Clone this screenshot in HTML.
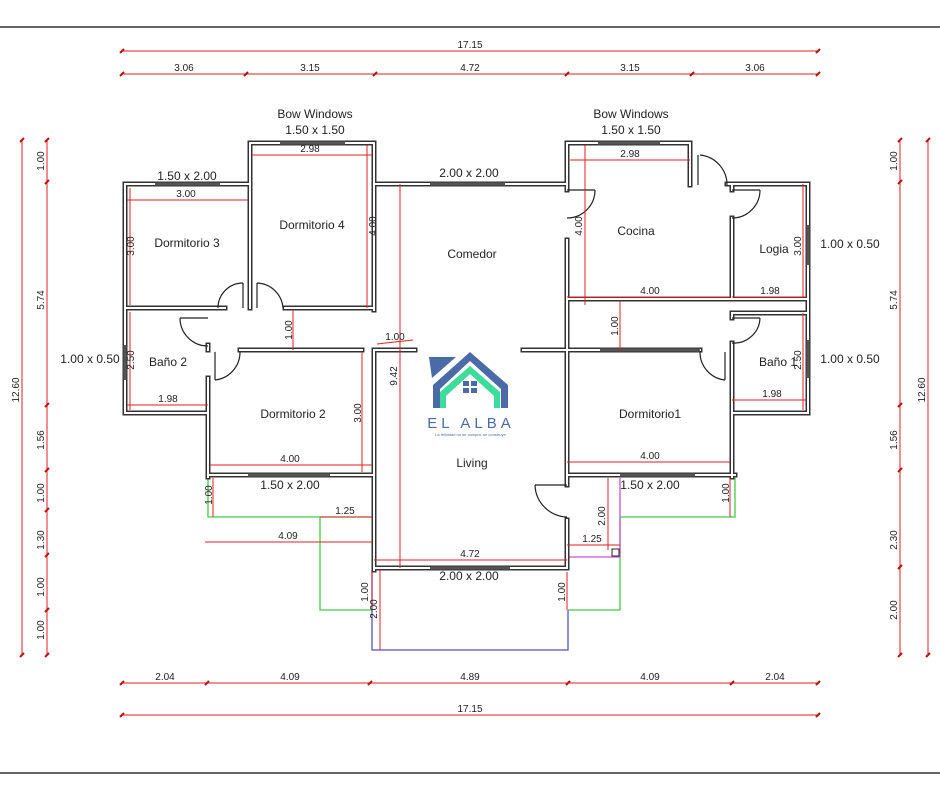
<!DOCTYPE html>
<html><head><meta charset="utf-8"><style>
html,body{margin:0;padding:0;background:#fff;}
svg{display:block;font-family:"Liberation Sans",sans-serif;}
.d{stroke:#d22;stroke-width:1;fill:none}
.t{stroke:#b11;stroke-width:2}
.w1{stroke:#333;stroke-width:5;fill:none;stroke-linecap:square}
.w2{stroke:#fff;stroke-width:2;fill:none;stroke-linecap:square}
.dt{font-size:10px;fill:#222;text-anchor:middle}
.lb{font-size:12px;fill:#222;text-anchor:middle}
.arc{stroke:#222;stroke-width:1.2;fill:none}
.win{stroke:#555;stroke-width:3}
</style></head><body>
<svg width="940" height="788" viewBox="0 0 940 788" xmlns="http://www.w3.org/2000/svg">
<line x1="0" y1="27" x2="940" y2="27" stroke="#666" stroke-width="2"/>
<line x1="0" y1="773" x2="940" y2="773" stroke="#666" stroke-width="2"/>

<!-- top dims -->
<line class="d" x1="122" y1="51" x2="818" y2="51"/>
<line class="d" x1="122" y1="74" x2="818" y2="74"/>
<g class="t">
<line x1="120" y1="53" x2="124" y2="49"/><line x1="816" y1="53" x2="820" y2="49"/>
<line x1="120" y1="76" x2="124" y2="72"/><line x1="244" y1="76" x2="248" y2="72"/><line x1="373" y1="76" x2="377" y2="72"/><line x1="565" y1="76" x2="569" y2="72"/><line x1="690" y1="76" x2="694" y2="72"/><line x1="816" y1="76" x2="820" y2="72"/>
</g>
<text class="dt" x="470" y="48">17.15</text>
<text class="dt" x="184" y="71">3.06</text><text class="dt" x="310" y="71">3.15</text><text class="dt" x="470" y="71">4.72</text><text class="dt" x="630" y="71">3.15</text><text class="dt" x="755" y="71">3.06</text>

<!-- bottom dims -->
<line class="d" x1="122" y1="683" x2="818" y2="683"/>
<line class="d" x1="122" y1="715" x2="818" y2="715"/>
<g class="t">
<line x1="120" y1="685" x2="124" y2="681"/><line x1="205" y1="685" x2="209" y2="681"/><line x1="368" y1="685" x2="372" y2="681"/><line x1="566" y1="685" x2="570" y2="681"/><line x1="730" y1="685" x2="734" y2="681"/><line x1="816" y1="685" x2="820" y2="681"/>
<line x1="120" y1="717" x2="124" y2="713"/><line x1="816" y1="717" x2="820" y2="713"/>
</g>
<text class="dt" x="165" y="680">2.04</text><text class="dt" x="290" y="680">4.09</text><text class="dt" x="470" y="680">4.89</text><text class="dt" x="650" y="680">4.09</text><text class="dt" x="775" y="680">2.04</text>
<text class="dt" x="470" y="712">17.15</text>

<!-- left dims -->
<line class="d" x1="22" y1="140" x2="22" y2="655"/>
<line class="d" x1="47" y1="140" x2="47" y2="655"/>
<g class="t">
<line x1="20" y1="142" x2="24" y2="138"/><line x1="20" y1="657" x2="24" y2="653"/>
<line x1="45" y1="142" x2="49" y2="138"/><line x1="45" y1="184" x2="49" y2="180"/><line x1="45" y1="407" x2="49" y2="403"/><line x1="45" y1="472" x2="49" y2="468"/><line x1="45" y1="512" x2="49" y2="508"/><line x1="45" y1="557" x2="49" y2="553"/><line x1="45" y1="612" x2="49" y2="608"/><line x1="45" y1="657" x2="49" y2="653"/>
</g>
<g class="dt">
<text transform="translate(19,390) rotate(-90)">12.60</text>
<text transform="translate(44,161) rotate(-90)">1.00</text>
<text transform="translate(44,300) rotate(-90)">5.74</text>
<text transform="translate(44,440) rotate(-90)">1.56</text>
<text transform="translate(44,493) rotate(-90)">1.00</text>
<text transform="translate(44,540) rotate(-90)">1.30</text>
<text transform="translate(44,587) rotate(-90)">1.00</text>
<text transform="translate(44,630) rotate(-90)">1.00</text>
</g>
<!-- right dims -->
<line class="d" x1="900" y1="140" x2="900" y2="655"/>
<line class="d" x1="928" y1="140" x2="928" y2="655"/>
<g class="t">
<line x1="926" y1="142" x2="930" y2="138"/><line x1="926" y1="657" x2="930" y2="653"/>
<line x1="898" y1="142" x2="902" y2="138"/><line x1="898" y1="184" x2="902" y2="180"/><line x1="898" y1="407" x2="902" y2="403"/><line x1="898" y1="472" x2="902" y2="468"/><line x1="898" y1="569" x2="902" y2="565"/><line x1="898" y1="657" x2="902" y2="653"/>
</g>
<g class="dt">
<text transform="translate(925,390) rotate(-90)">12.60</text>
<text transform="translate(897,161) rotate(-90)">1.00</text>
<text transform="translate(897,300) rotate(-90)">5.74</text>
<text transform="translate(897,440) rotate(-90)">1.56</text>
<text transform="translate(897,540) rotate(-90)">2.30</text>
<text transform="translate(897,610) rotate(-90)">2.00</text>
</g>

<!-- green / purple / blue lines -->
<g stroke="#4c4" stroke-width="1.3" fill="none">
<polyline points="208,478 208,517 372,517"/>
<polyline points="320,517 320,610 372,610"/>
<polyline points="735,478 735,517 620,517 620,610 568,610"/>
</g>
<g stroke="#c5c" stroke-width="1.3" fill="none"><polyline points="620,478 620,557 568,557"/></g>
<g stroke="#55b" stroke-width="1.3" fill="none"><polyline points="372,570 372,650 568,650 568,610"/></g>
<rect x="612" y="549" width="7" height="7" fill="#fff" stroke="#222"/>

<!-- walls -->
<g id="walls">
<path class="w1" d="M125,184H250 M125,184V413H208 M208,345V350 M208,378V477 M125,308H225 M285,308H374 M250,143V308 M250,143H374V308 M374,184H567 M567,143V190 M567,240V350 M567,143H690V185 M727,184H808V413 M567,299H808 M732,184V190 M732,218V299 M732,313H808 M732,313V318 M732,343V477 M732,413H808 M567,350H700 M567,350V485 M567,520V568 M567,475H735 M240,350H362 M208,475H374 M374,184V310 M374,350V570 M374,350H415 M523,350H567 M374,568H567"/>
<path class="w2" d="M125,184H250 M125,184V413H208 M208,345V350 M208,378V477 M125,308H225 M285,308H374 M250,143V308 M250,143H374V308 M374,184H567 M567,143V190 M567,240V350 M567,143H690V185 M727,184H808V413 M567,299H808 M732,184V190 M732,218V299 M732,313H808 M732,313V318 M732,343V477 M732,413H808 M567,350H700 M567,350V485 M567,520V568 M567,475H735 M240,350H362 M208,475H374 M374,184V310 M374,350V570 M374,350H415 M523,350H567 M374,568H567"/>
</g>
<!-- windows -->
<g class="win">
<line x1="155" y1="184" x2="220" y2="184"/>
<line x1="280" y1="143" x2="345" y2="143"/>
<line x1="598" y1="143" x2="660" y2="143"/>
<line x1="430" y1="184" x2="505" y2="184"/>
<line x1="125" y1="345" x2="125" y2="380"/>
<line x1="808" y1="225" x2="808" y2="265"/>
<line x1="808" y1="340" x2="808" y2="378"/>
<line x1="248" y1="475" x2="330" y2="475"/>
<line x1="620" y1="475" x2="695" y2="475"/>
<line x1="430" y1="568" x2="510" y2="568"/>
<line x1="600" y1="350" x2="700" y2="350"/>
</g>
<!-- doors -->
<g class="arc">
<path d="M243,283 A25,25 0 0,0 218,308"/><line x1="243" y1="283" x2="243" y2="308"/>
<path d="M257,283 A27,27 0 0,1 283,308"/><line x1="257" y1="283" x2="257" y2="308"/>
<path d="M180,318 A28,28 0 0,0 208,346"/><line x1="180" y1="318" x2="208" y2="318"/>
<path d="M240,352 A28,28 0 0,1 215,380"/><line x1="215" y1="352" x2="215" y2="380"/>
<path d="M595,190 A28,28 0 0,1 567,218"/><line x1="567" y1="190" x2="595" y2="190"/>
<path d="M700,155 A30,30 0 0,1 727,185"/><line x1="698" y1="155" x2="698" y2="185"/>
<path d="M760,190 A28,28 0 0,1 732,218"/><line x1="732" y1="190" x2="760" y2="190"/>
<path d="M760,318 A26,26 0 0,1 732,343"/><line x1="732" y1="318" x2="760" y2="318"/>
<path d="M700,352 A28,28 0 0,0 725,380"/><line x1="725" y1="352" x2="725" y2="380"/>
<path d="M535,485 A33,33 0 0,0 567,517"/><line x1="535" y1="485" x2="567" y2="485"/>
</g>

<!-- interior red dims -->
<g class="d">
<line x1="127" y1="200" x2="248" y2="200"/><line x1="130" y1="188" x2="130" y2="305"/>
<line x1="252" y1="155" x2="372" y2="155"/><line x1="367" y1="145" x2="367" y2="308"/>
<line x1="293" y1="310" x2="293" y2="350"/>
<line x1="377" y1="344" x2="413" y2="340"/>
<line x1="400" y1="184" x2="400" y2="568"/>
<line x1="130" y1="312" x2="130" y2="410"/><line x1="127" y1="405" x2="208" y2="405"/>
<line x1="210" y1="465" x2="372" y2="465"/><line x1="362" y1="352" x2="362" y2="472"/>
<line x1="213" y1="478" x2="213" y2="517"/>
<line x1="320" y1="517" x2="372" y2="517"/>
<line x1="205" y1="542" x2="372" y2="542"/>
<line x1="374" y1="560" x2="567" y2="560"/>
<line x1="372" y1="572" x2="372" y2="610"/><line x1="380" y1="570" x2="380" y2="650"/>
<line x1="567" y1="572" x2="567" y2="610"/>
<line x1="570" y1="160" x2="690" y2="160"/><line x1="585" y1="145" x2="585" y2="305"/>
<line x1="567" y1="297" x2="730" y2="297"/><line x1="732" y1="297" x2="806" y2="297"/>
<line x1="803" y1="184" x2="803" y2="297"/>
<line x1="620" y1="301" x2="620" y2="350"/>
<line x1="803" y1="313" x2="803" y2="410"/><line x1="732" y1="400" x2="806" y2="400"/>
<line x1="567" y1="462" x2="730" y2="462"/>
<line x1="608" y1="478" x2="608" y2="550"/>
<line x1="567" y1="545" x2="620" y2="545"/>
<line x1="730" y1="478" x2="730" y2="517"/>
</g>
<g class="dt">
<text x="186" y="197">3.00</text><text transform="translate(134,246) rotate(-90)">3.00</text>
<text x="310" y="152">2.98</text><text transform="translate(376,226) rotate(-90)">4.00</text>
<text transform="translate(292,330) rotate(-90)">1.00</text>
<text x="395" y="340">1.00</text>
<text transform="translate(397,376) rotate(-90)">9.42</text>
<text transform="translate(134,360) rotate(-90)">2.50</text><text x="168" y="402">1.98</text>
<text x="290" y="462">4.00</text><text transform="translate(361,413) rotate(-90)">3.00</text>
<text transform="translate(212,495) rotate(-90)">1.00</text>
<text x="345" y="514">1.25</text>
<text x="288" y="539">4.09</text>
<text x="470" y="557">4.72</text>
<text transform="translate(368,592) rotate(-90)">1.00</text>
<text transform="translate(377,609) rotate(-90)">2.00</text>
<text transform="translate(565,592) rotate(-90)">1.00</text>
<text x="630" y="157">2.98</text><text transform="translate(582,226) rotate(-90)">4.00</text>
<text x="650" y="294">4.00</text><text x="770" y="294">1.98</text>
<text transform="translate(801,246) rotate(-90)">3.00</text>
<text transform="translate(618,326) rotate(-90)">1.00</text>
<text transform="translate(801,360) rotate(-90)">2.50</text><text x="772" y="397">1.98</text>
<text x="650" y="459">4.00</text>
<text transform="translate(605,516) rotate(-90)">2.00</text>
<text x="592" y="542">1.25</text>
<text transform="translate(729,493) rotate(-90)">1.00</text>
</g>

<!-- labels -->
<g class="lb">
<text x="315" y="118">Bow Windows</text><text x="315" y="134">1.50 x 1.50</text>
<text x="631" y="118">Bow Windows</text><text x="631" y="134">1.50 x 1.50</text>
<text x="187" y="180">1.50 x 2.00</text>
<text x="469" y="177">2.00 x 2.00</text>
<text x="187" y="247">Dormitorio 3</text>
<text x="312" y="229">Dormitorio 4</text>
<text x="472" y="258">Comedor</text>
<text x="636" y="235">Cocina</text>
<text x="774" y="253">Logia</text>
<text x="850" y="248">1.00 x 0.50</text>
<text x="90" y="363">1.00 x 0.50</text>
<text x="168" y="366">Baño 2</text>
<text x="293" y="418">Dormitorio 2</text>
<text x="472" y="467">Living</text>
<text x="650" y="418">Dormitorio1</text>
<text x="778" y="366">Baño 1</text>
<text x="850" y="363">1.00 x 0.50</text>
<text x="290" y="489">1.50 x 2.00</text>
<text x="650" y="489">1.50 x 2.00</text>
<text x="469" y="580">2.00 x 2.00</text>
</g>

<!-- logo -->
<g>
<polygon points="429,357 456,357 432,378" fill="#4a6aa8"/>
<polygon points="433,408 433,385 470,352 508,385 508,408 501,408 501,389 470,361 440,389 440,408" fill="#4a6aa8"/>
<polygon points="440,408 440,392 470,366 500,392 500,408 494,408 494,396 470,374 446,396 446,408" fill="#3ddc9a"/>
<rect x="463" y="381" width="6" height="5" fill="#4a6aa8"/><rect x="471" y="381" width="6" height="5" fill="#4a6aa8"/>
<rect x="463" y="388" width="6" height="5" fill="#4a6aa8"/><rect x="471" y="388" width="6" height="5" fill="#4a6aa8"/>
<text x="471" y="428" font-size="15" fill="#4a6aa8" text-anchor="middle" letter-spacing="4">EL ALBA</text>
<text x="471" y="436" font-size="4" fill="#4a6aa8" text-anchor="middle">La felicidad no se compra, se construye.</text>
</g>
</svg>
</body></html>
